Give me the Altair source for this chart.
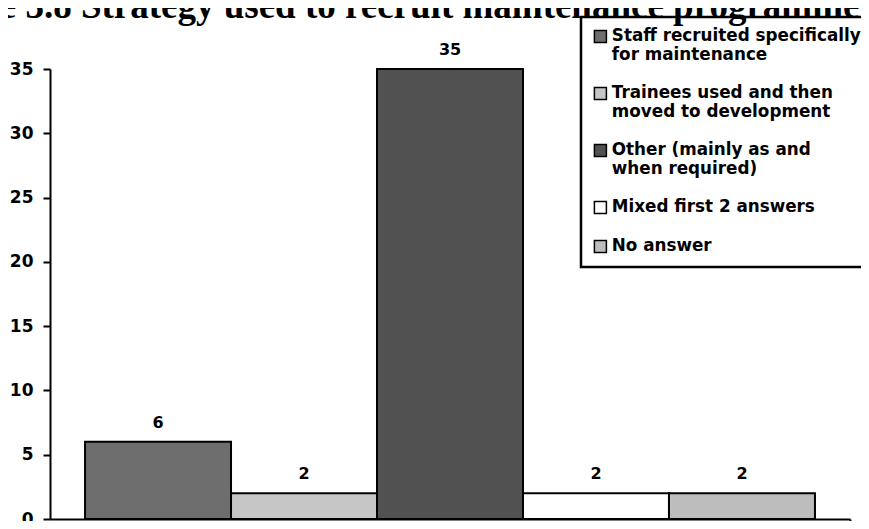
import altair as alt
import pandas as pd

# ---- data ----
group = ["All"]
series = [
    "Staff recruited specifically\nfor maintenance",
    "Trainees used and then\nmoved to development",
    "Other (mainly as and\nwhen required)",
    "Mixed first 2 answers",
    "No answer",
]
counts = [6, 2, 35, 2, 2]
fills = ["#6e6e6e", "#c6c6c6", "#515151", "#ffffff", "#bdbdbd"]
y_ticks = [0, 5, 10, 15, 20, 25, 30, 35]
title_text = "Figure 3.8 Strategy used to recruit maintenance programmers"

df = pd.DataFrame({"group": group * len(series), "series": series, "count": counts})

FONT = "DejaVu Sans"

x_main = alt.X(
    "group:N",
    scale=alt.Scale(paddingInner=0, paddingOuter=0),
    axis=alt.Axis(labels=False, title=None, domainColor="black", domainWidth=2,
                  ticks=True, bandPosition=1, tickSize=6, tickColor="black",
                  tickWidth=2, grid=False),
)
xoff = alt.XOffset("series:N", sort=series,
                   scale=alt.Scale(paddingInner=0, paddingOuter=0.24))

y_main = alt.Y(
    "count:Q",
    scale=alt.Scale(domain=[0, 35], nice=False, zero=True),
    axis=alt.Axis(orient="left", values=y_ticks, title=None, grid=False,
                  domainColor="black", domainWidth=2, tickColor="black",
                  tickWidth=2, tickSize=7, labelFont=FONT, labelFontWeight="bold",
                  labelFontSize=17, labelColor="black", labelPadding=10),
)

color = alt.Color(
    "series:N",
    sort=series,
    scale=alt.Scale(domain=series, range=fills),
    legend=alt.Legend(
        title=None, orient="none", legendX=531, legendY=-52,
        padding=11, strokeColor="black", fillColor="white",
        symbolType="square", symbolSize=144, symbolStrokeColor="black",
        symbolStrokeWidth=1.5, symbolOpacity=1,
        labelFont=FONT, labelFontWeight="bold", labelFontSize=16.8,
        labelColor="black", labelLimit=600, labelOffset=3,
        labelBaseline="middle", rowPadding=20,
        labelExpr="split(datum.label, '\\n')",
    ),
)

bars = alt.Chart(df).mark_bar(stroke="black", strokeWidth=2, opacity=1).encode(
    x=x_main, xOffset=xoff, y=y_main, color=color
)

labels = alt.Chart(df).mark_text(
    font=FONT, fontWeight="bold", fontSize=16, baseline="middle", dy=-19,
    color="black",
).encode(x=alt.X("group:N"), xOffset=xoff, y=alt.Y("count:Q"), text="count:Q")

chart = (
    alt.layer(bars, labels)
    .properties(
        width=800,
        height=450,
        title=alt.Title(
            title_text, font="Liberation Serif", fontSize=37, fontWeight="bold",
            anchor="start", frame="group", dx=-138, dy=10, offset=0, color="black",
        ),
        autosize=alt.AutoSizeParams(type="none"),
        padding={"left": 42, "top": 61, "right": 11, "bottom": 2},
    )
    .configure_view(stroke=None)
    .configure_legend(strokeWidth=2.5)
)

chart.save("out.html", embed_options={"renderer": "svg", "actions": False})
